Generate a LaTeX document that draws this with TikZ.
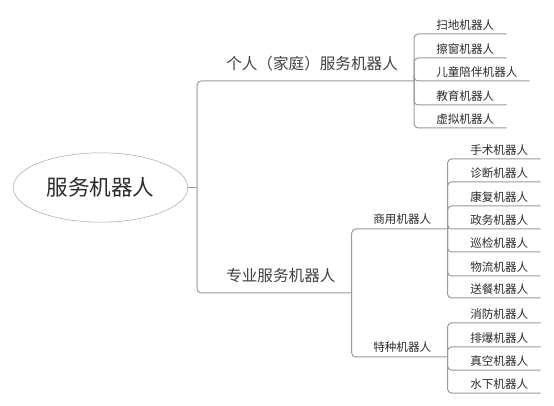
\documentclass[tikz,border=0pt]{standalone}
\usepackage{fontspec}
\setmainfont{Noto Sans CJK SC}
\usetikzlibrary{shapes.geometric}
\definecolor{ink}{HTML}{2B2B2B}
\definecolor{wire}{HTML}{9A9A9A}
\tikzset{
  link/.style={draw=wire, line width=0.75pt, rounded corners=3pt},
  hub/.style={draw=wire!85, ellipse, minimum width=131pt, minimum height=52pt,
    inner sep=0pt, text=ink, font=\fontsize{16.2pt}{19pt}\selectfont},
  branch/.style={anchor=south west, inner xsep=12pt, inner ysep=7.5pt, text=ink!90,
    font=\fontsize{11.7pt}{14pt}\selectfont},
  twig/.style={anchor=south west, inner xsep=12pt, inner ysep=3pt, text=ink,
    font=\fontsize{8.7pt}{10pt}\selectfont},
  leaf/.style={anchor=south west, inner xsep=9pt, inner ysep=2.5pt, text=ink,
    font=\fontsize{8.7pt}{10pt}\selectfont},
}
\begin{document}
\begin{tikzpicture}[x=0.75pt,y=-0.75pt]
        \useasboundingbox (0,0) rectangle (554,406);
        \node[hub] (root) at (100.5,187.5) {服务机器人};
        \path (root.east) ++(9,0) coordinate (fork);
        \node[branch] (home) at (210,81) {个人（家庭）服务机器人};
        \node[branch] (pro) at (210,293) {专业服务机器人};
        \node[twig] (biz) at (357,229) {商用机器人};
        \node[twig] (spec) at (357,357) {特种机器人};
        \draw[link] (root.east) -- (fork);
        \foreach \p in {home,pro} \draw[link] (fork) |- (\p.south east);
        \foreach \p in {biz,spec} \draw[link] (pro.south east) |- (\p.south east);
        \foreach \y/\t [count=\i] in {34/扫地机器人,58/擦窗机器人,81/儿童陪伴机器人,105/教育机器人,128/虚拟机器人} {
            \node[leaf] (home\i) at (424,\y) {\t};
            \draw[link] (home.south east) |- (home\i.south east);
        }
        \foreach \y/\t [count=\i] in {159/手术机器人,182/诊断机器人,206/康复机器人,229/政务机器人,252/巡检机器人,276/物流机器人,298/送餐机器人} {
            \node[leaf] (biz\i) at (458,\y) {\t};
            \draw[link] (biz.south east) |- (biz\i.south east);
        }
        \foreach \y/\t [count=\i] in {323/消防机器人,347/排爆机器人,370/真空机器人,393/水下机器人} {
            \node[leaf] (spec\i) at (458,\y) {\t};
            \draw[link] (spec.south east) |- (spec\i.south east);
        }
\end{tikzpicture}
\end{document}
